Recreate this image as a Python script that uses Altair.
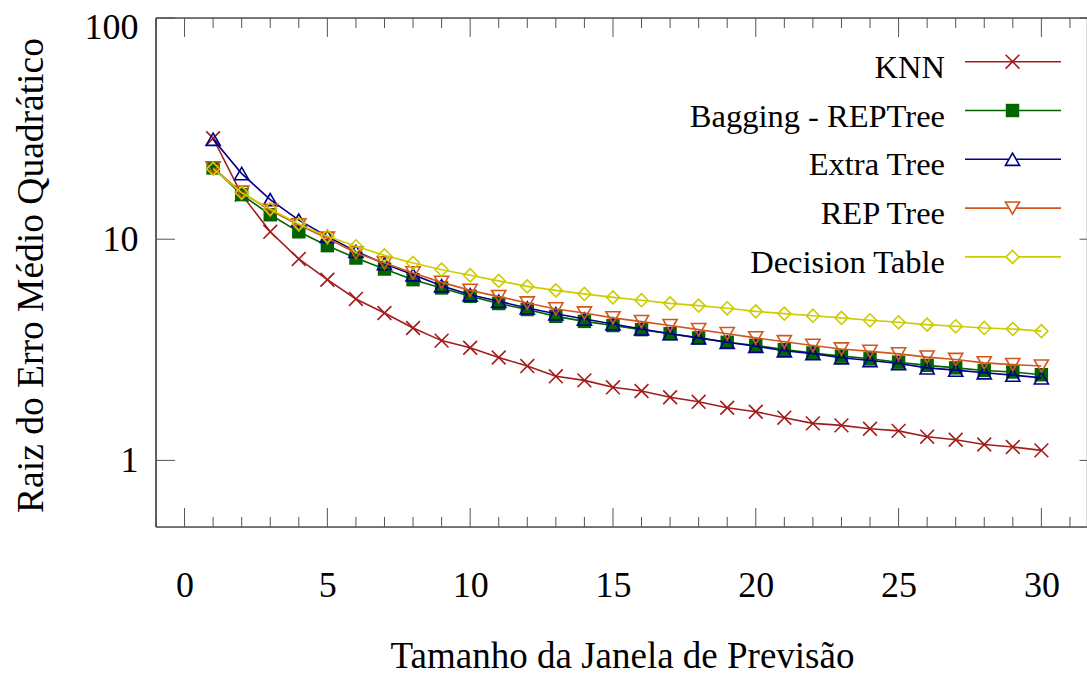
import altair as alt
import pandas as pd

# ---------------- data ----------------
janela = list(range(1, 31))

knn = [28.6, 15.9, 10.8, 8.14, 6.56, 5.37, 4.64, 3.97, 3.48, 3.23,
       2.92, 2.67, 2.40, 2.30, 2.14, 2.06, 1.93, 1.84, 1.73, 1.66,
       1.56, 1.47, 1.44, 1.39, 1.36, 1.28, 1.24, 1.18, 1.15, 1.11]
bagging = [21.0, 15.9, 12.9, 10.8, 9.35, 8.22, 7.33, 6.56, 6.02, 5.52,
           5.12, 4.81, 4.48, 4.25, 4.07, 3.90, 3.74, 3.58, 3.42, 3.31,
           3.17, 3.06, 2.96, 2.88, 2.78, 2.69, 2.62, 2.55, 2.51, 2.44]
extra_tree = [28.3, 19.8, 15.1, 12.2, 10.3, 8.81, 7.75, 6.91, 6.16, 5.61,
              5.24, 4.89, 4.60, 4.36, 4.14, 3.93, 3.74, 3.58, 3.42, 3.28,
              3.13, 3.04, 2.91, 2.83, 2.74, 2.62, 2.56, 2.49, 2.43, 2.36]
rep_tree = [21.0, 16.3, 13.5, 11.6, 10.1, 8.67, 7.81, 7.04, 6.38, 5.87,
            5.50, 5.15, 4.84, 4.64, 4.41, 4.24, 4.07, 3.90, 3.74, 3.58,
            3.44, 3.31, 3.19, 3.11, 3.03, 2.93, 2.86, 2.76, 2.71, 2.67]
decision_table = [20.8, 16.2, 13.7, 11.7, 10.3, 9.29, 8.45, 7.81, 7.28, 6.87,
                  6.48, 6.12, 5.87, 5.66, 5.46, 5.30, 5.13, 5.01, 4.87, 4.72,
                  4.61, 4.51, 4.41, 4.30, 4.21, 4.11, 4.04, 3.97, 3.93, 3.84]

series_names = ["KNN", "Bagging - REPTree", "Extra Tree", "REP Tree", "Decision Table"]
series_values = [knn, bagging, extra_tree, rep_tree, decision_table]

x_major_ticks = [0, 5, 10, 15, 20, 25, 30]
x_minor_ticks = [i for i in range(-1, 33) if i % 5 != 0]
y_major_ticks = [1, 10, 100]

# ---------------- styles ----------------
colors = ["#a31c1c", "#006400", "#00008b", "#d2561e", "#cccc00"]
shapes = ["M-1,-1L1,1M-1,1L1,-1", "square", "triangle-up", "triangle-down", "diamond"]
filled = [False, True, False, False, False]
sizes = [190, 180, 200, 200, 170]

FONT = "Liberation Serif"
W, H = 930, 509
XR = 942.5  # full x range (right frame lies just outside the visible picture)

xs = alt.Scale(domain=[-1, 32], range=[0, XR], nice=False, zero=False)
ys = alt.Scale(type="log", domain=[0.5, 100], nice=False)

x_axis = alt.Axis(values=x_major_ticks, format="d", grid=False, ticks=False, tickSize=0,
                  domain=False, labelFont=FONT, labelFontSize=36, labelColor="black",
                  labelPadding=41, labelOverlap=False,
                  title="Tamanho da Janela de Previsão", titleFont=FONT, titleFontSize=37,
                  titleFontWeight="normal", titleColor="black", titleBaseline="middle",
                  titleAlign="center", titleY=129, titleX=W / 2 + 1)
y_axis = alt.Axis(values=y_major_ticks, format="d", grid=False, ticks=False, tickSize=0,
                  domain=False, labelFont=FONT, labelFontSize=36, labelColor="black",
                  labelPadding=18, labelOverlap=False, labelFlush=True, labelFlushOffset=8,
                  title="Raiz do Erro Médio Quadrático", titleFont=FONT, titleFontSize=37.5,
                  titleFontWeight="normal", titleColor="black", titleAngle=270,
                  titleBaseline="middle", titleAlign="center", titleX=-125, titleY=257)

X = lambda: alt.X("x:Q", scale=xs, axis=x_axis)
Y = lambda: alt.Y("y:Q", scale=ys, axis=y_axis)

layers = []
one = pd.DataFrame({"k": [0]})

# frame
layers.append(alt.Chart(one).mark_rule(color="black", strokeWidth=1.2).encode(
    x=alt.value(0), y=alt.value(0), y2=alt.value(H)))
layers.append(alt.Chart(one).mark_rule(color="black", strokeWidth=1.2).encode(
    x=alt.value(0), x2=alt.value(XR), y=alt.value(0)))
layers.append(alt.Chart(one).mark_rule(color="black", strokeWidth=1.2).encode(
    x=alt.value(0), x2=alt.value(XR), y=alt.value(H)))

# x ticks (bottom & top, inward)
tick_color = "#555555"
xmaj = pd.DataFrame({"x": x_major_ticks})
xmin = pd.DataFrame({"x": x_minor_ticks})
for df_t, L in ((xmaj, 19), (xmin, 10)):
    layers.append(alt.Chart(df_t).mark_rule(color=tick_color, strokeWidth=1).encode(
        x=X(), y=alt.value(H - L), y2=alt.value(H)))
    layers.append(alt.Chart(df_t).mark_rule(color=tick_color, strokeWidth=1).encode(
        x=X(), y=alt.value(0), y2=alt.value(L)))

# y ticks (left & right, inward)
ymaj = pd.DataFrame({"y": y_major_ticks})
layers.append(alt.Chart(ymaj).mark_rule(color=tick_color, strokeWidth=1).encode(
    y=Y(), x=alt.value(0), x2=alt.value(19)))
layers.append(alt.Chart(ymaj).mark_rule(color=tick_color, strokeWidth=1).encode(
    y=Y(), x=alt.value(XR - 19), x2=alt.value(XR)))

# series
for i, (name, vals) in enumerate(zip(series_names, series_values)):
    d = pd.DataFrame({"x": janela, "y": vals, "serie": name})
    layers.append(alt.Chart(d).mark_line(color=colors[i], strokeWidth=1.6).encode(
        x=X(), y=Y()))
    pt = dict(shape=shapes[i], size=sizes[i], strokeWidth=1.6, opacity=1)
    if filled[i]:
        pt.update(filled=True, color=colors[i], fill=colors[i])
    else:
        pt.update(filled=False, color=colors[i], fill="transparent")
    layers.append(alt.Chart(d).mark_point(**pt).encode(x=X(), y=Y()))

# legend (key) inside top-right
row0, dy = 43.7, 48.8
for i, name in enumerate(series_names):
    ry = row0 + i * dy
    leg = pd.DataFrame({"serie": [name]})
    layers.append(alt.Chart(leg).mark_rule(color=colors[i], strokeWidth=1.6).encode(
        x=alt.value(809), x2=alt.value(905), y=alt.value(ry)))
    pt = dict(shape=shapes[i], size=sizes[i], strokeWidth=1.6, opacity=1)
    if filled[i]:
        pt.update(filled=True, color=colors[i], fill=colors[i])
    else:
        pt.update(filled=False, color=colors[i], fill="white")
    layers.append(alt.Chart(leg).mark_point(**pt).encode(
        x=alt.value(856.5), y=alt.value(ry)))
    layers.append(alt.Chart(leg).mark_text(font=FONT, fontSize=32.5, align="right",
                                           baseline="middle", color="black").encode(
        text="serie:N", x=alt.value(789), y=alt.value(ry + 6)))

chart = alt.layer(*layers).properties(
    width=W, height=H,
    autosize=alt.AutoSizeParams(type="none"),
    padding={"left": 156, "top": 18, "right": 1, "bottom": 149},
).configure_view(stroke=None).configure(background="white")

chart.save("out.html", embed_options={"renderer": "svg", "actions": False})
